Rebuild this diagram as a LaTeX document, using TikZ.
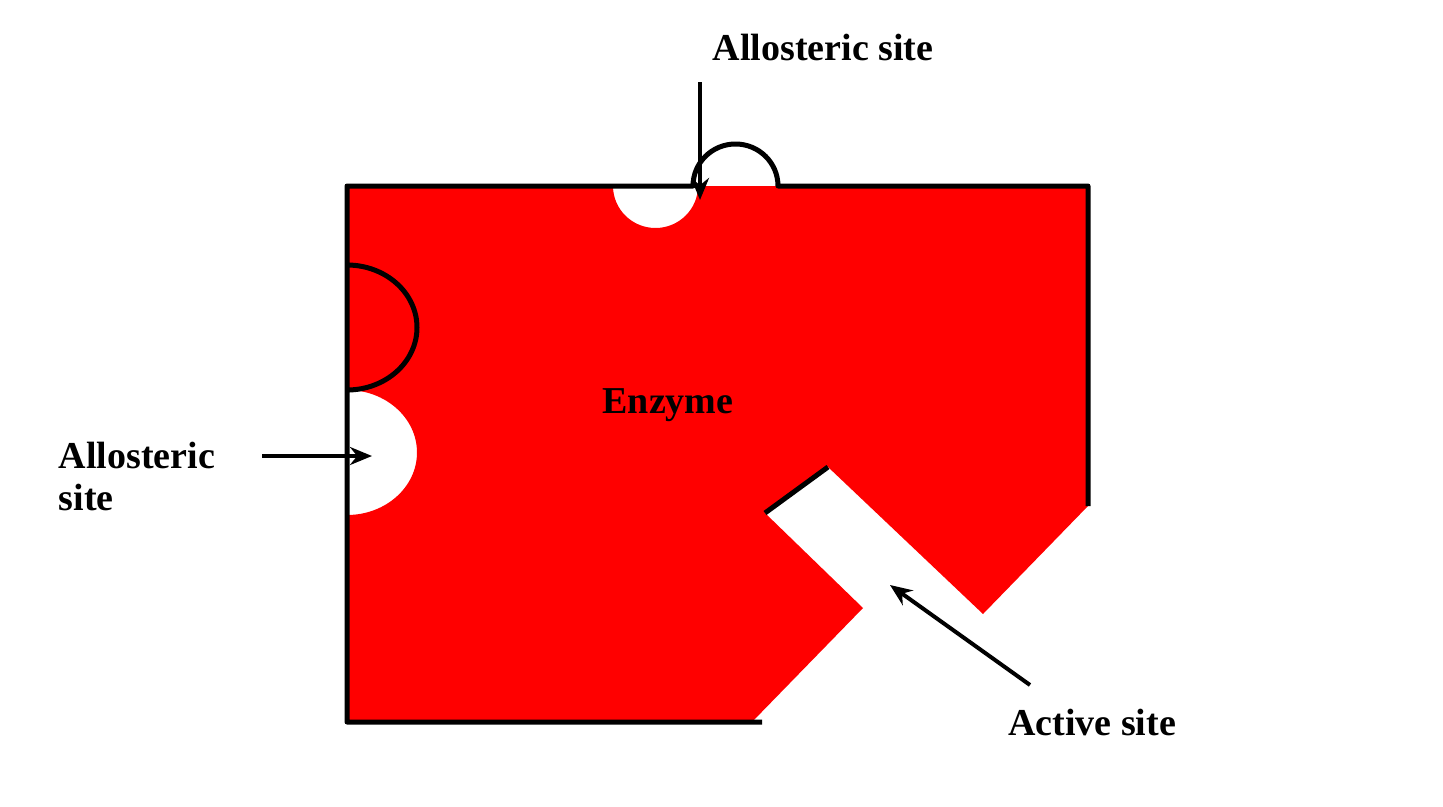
\documentclass[tikz,border=0pt]{standalone}
\usepackage{fontspec}
\setmainfont{Liberation Serif}
\usetikzlibrary{arrows.meta}
\begin{document}
\begin{tikzpicture}[x=1pt,y=-1pt,
  lbl/.style={font=\fontsize{38}{42}\selectfont\bfseries, align=left, inner sep=0pt},
  pointer/.style={line width=4pt,-{Stealth[length=22pt,width=18pt]}}]
\useasboundingbox (0,0) rectangle (1443,806);
\fill[red] (347,186) -- (613,186) arc[start angle=180,end angle=360,x radius=42.5,y radius=-42] -- (1088,186) -- (1088,506) -- (983,614) -- (828,467) -- (765,513) -- (863,608) -- (752,722) -- (347,722) -- (347,515) arc[start angle=-90,end angle=90,x radius=70,y radius=-62.5] -- cycle;
\draw[line width=5pt, line join=round] (1088,506) -- (1088,186) -- (698+80,186) arc[start angle=0,end angle=-180,x radius=42.5,y radius=42] -- (347,186) -- (347,390) arc[start angle=90,end angle=-90,x radius=70,y radius=62.5] -- (347,722) -- (762,722);
\draw[line width=5pt] (828,467) -- (765,513);
\node[lbl] (t1) at (823,48) {Allosteric site};
\node[lbl] (t2) at (137,476) {Allosteric\\site};
\node[lbl] (t3) at (1092,722) {Active site};
\node[lbl] (enz) at (668,405) {Enzyme};
\coordinate (a1) at (700,200);
\coordinate (a2) at (372,456);
\coordinate (a3) at (890,585);
\draw[pointer] (700,82) -- (a1);
\draw[pointer] (262,456) -- (a2);
\draw[pointer] (1030,685) -- (a3);
\end{tikzpicture}
\end{document}
